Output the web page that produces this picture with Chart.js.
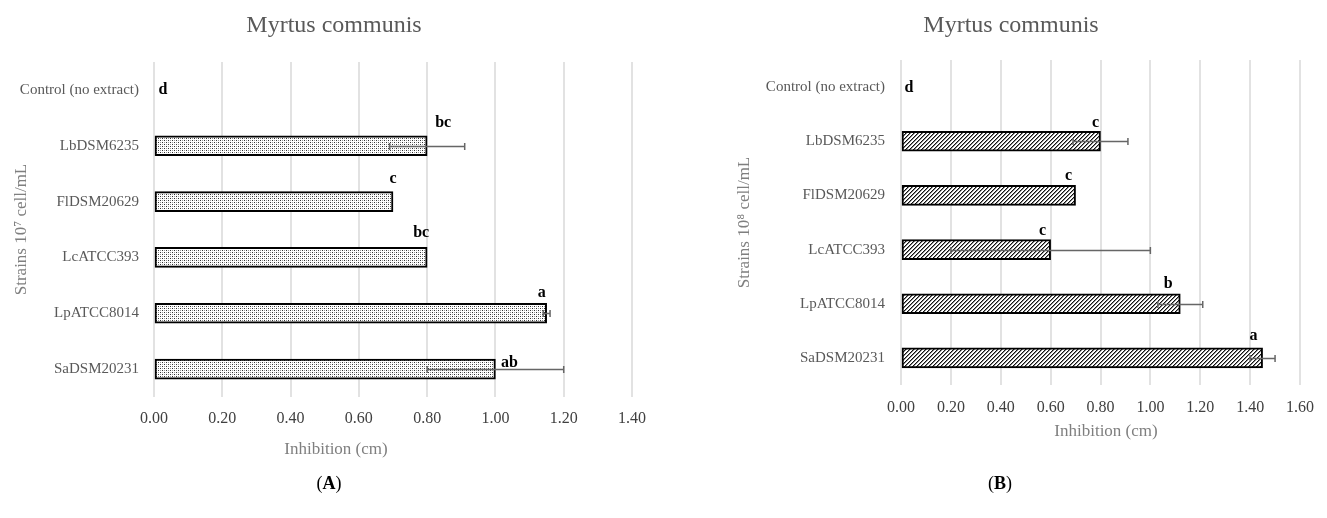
<!DOCTYPE html>
<html>
<head>
<meta charset="utf-8">
<script src="https://cdn.jsdelivr.net/npm/chart.js@4.4.0/dist/chart.umd.min.js"></script>
<style>
  body { margin: 0; background: #fff; width: 1327px; height: 518px; position: relative; overflow: hidden; font-family: 'Liberation Serif', serif; }
  canvas { position: absolute; top: 0; }
  #chartA { left: 0; }
  #chartB { left: 663px; }
  .txt { position: absolute; white-space: nowrap; transform: translateX(-50%); line-height: 1; }
  .title { font-size: 24px; color: #595959; top: 12px; }
  .xtitle { font-size: 17px; color: #7f7f7f; }
  .panel { font-size: 18px; color: #000; top: 474px; }
</style>
</head>
<body>
<canvas id="chartA" width="663" height="470"></canvas>
<canvas id="chartB" width="664" height="470"></canvas>

<div class="txt title" style="left:334px">Myrtus communis</div>
<div class="txt title" style="left:1011px">Myrtus communis</div>
<div class="txt xtitle" style="left:336px;top:440px">Inhibition (cm)</div>
<div class="txt xtitle" style="left:1106px;top:422px">Inhibition (cm)</div>
<div class="txt panel" style="left:329px">(<b>A</b>)</div>
<div class="txt panel" style="left:1000px">(<b>B</b>)</div>

<script>
// ---- data ----
const strains = ['Control (no extract)', 'LbDSM6235', 'FlDSM20629', 'LcATCC393', 'LpATCC8014', 'SaDSM20231'];

// panel A: 10^7 cell/mL
const inhibitionA = [0, 0.80, 0.70, 0.80, 1.15, 1.00];
const errorA = [0, 0.11, 0, 0, 0.01, 0.20];
const lettersA = ['d', 'bc', 'c', 'bc', 'a', 'ab'];

// panel B: 10^8 cell/mL
const inhibitionB = [0, 0.80, 0.70, 0.60, 1.12, 1.45];
const errorB = [0, 0.11, 0, 0.40, 0.09, 0.05];
const lettersB = ['d', 'c', 'c', 'c', 'b', 'a'];

const FONT = "'Liberation Serif', serif";

// fill patterns: light stipple for A, diagonal hatch for B
function stipple() {
  const c = document.createElement('canvas');
  c.width = 4; c.height = 4;
  const g = c.getContext('2d');
  g.fillStyle = '#fff'; g.fillRect(0, 0, 4, 4);
  g.fillStyle = '#333';
  [[0, 0], [2, 2]].forEach(([x, y]) => g.fillRect(x, y, 1, 1));
  g.fillStyle = '#999';
  [[2, 0], [0, 2]].forEach(([x, y]) => g.fillRect(x, y, 1, 1));
  return g.createPattern(c, 'repeat');
}

function hatch() {
  const c = document.createElement('canvas');
  c.width = 4; c.height = 4;
  const g = c.getContext('2d');
  g.fillStyle = '#fff'; g.fillRect(0, 0, 4, 4);
  g.fillStyle = '#111';
  [[3, 0], [2, 1], [1, 2], [0, 3]].forEach(([x, y]) => g.fillRect(x, y, 1, 1));
  g.fillStyle = '#888';
  [[0, 0], [3, 1], [2, 2], [1, 3]].forEach(([x, y]) => g.fillRect(x, y, 1, 1));
  return g.createPattern(c, 'repeat');
}

// error bars + significance letters, drawn on top of the bars
const marksPlugin = {
  id: 'marks',
  afterDatasetsDraw(chart, args, opts) {
    const { ctx, scales: { x } } = chart;
    const bars = chart.getDatasetMeta(0).data;
    ctx.save();
    ctx.strokeStyle = '#666';
    ctx.lineWidth = 1.5;
    opts.errors.forEach((e, i) => {
      if (!e) return;
      const v = opts.values[i];
      const yc = Math.round(bars[i].y) + 0.5;
      const x0 = x.getPixelForValue(v - e);
      const x1 = x.getPixelForValue(v + e);
      ctx.beginPath();
      ctx.moveTo(x0, yc); ctx.lineTo(x1, yc);
      ctx.moveTo(x0, yc - 3.5); ctx.lineTo(x0, yc + 3.5);
      ctx.moveTo(x1, yc - 3.5); ctx.lineTo(x1, yc + 3.5);
      ctx.stroke();
    });

    ctx.fillStyle = '#000';
    ctx.font = 'bold 16px ' + FONT;
    ctx.textAlign = 'center';
    ctx.textBaseline = 'middle';
    opts.letters.forEach((t, i) => {
      const [dx, dy] = opts.nudge[i];
      const px = x.getPixelForValue(opts.values[i]) + dx;
      ctx.fillText(t, px, bars[i].y + dy);
    });
    ctx.restore();
  }
};

function makeChart(id, values, errors, letters, cfg) {
  return new Chart(document.getElementById(id), {
    type: 'bar',
    data: {
      labels: strains,
      datasets: [{
        data: values,
        backgroundColor: cfg.fill,
        borderColor: '#000',
        borderWidth: 2,
        borderSkipped: false,
        barThickness: 20
      }]
    },
    options: {
      indexAxis: 'y',
      responsive: false,
      animation: false,
      devicePixelRatio: 1,
      layout: { padding: { top: cfg.top, right: cfg.right, left: 0, bottom: 0 } },
      plugins: {
        legend: { display: false },
        tooltip: { enabled: false },
        marks: { values, errors, letters, nudge: cfg.nudge }
      },
      scales: {
        x: {
          min: 0,
          max: cfg.max,
          ticks: {
            stepSize: 0.2,
            callback: v => Number(v).toFixed(2),
            color: '#404040',
            font: { family: FONT, size: 16 },
            padding: cfg.tickPad,
            maxRotation: 0
          },
          grid: { color: '#e2e2e2', lineWidth: 2, drawTicks: false },
          border: { display: false },
          afterFit(s) { s.height = cfg.xHeight; }
        },
        y: {
          ticks: { color: '#595959', font: { family: FONT, size: 15 }, padding: cfg.labelPad },
          grid: { display: false, drawTicks: false },
          border: { display: false },
          title: {
            display: true,
            text: cfg.yTitle,
            color: '#7f7f7f',
            font: { family: FONT, size: 17 },
            padding: { top: cfg.yTitlePad, bottom: 0 }
          },
          afterFit(s) { s.width = cfg.yWidth; }
        }
      }
    },
    plugins: [marksPlugin]
  });
}

makeChart('chartA', inhibitionA, errorA, lettersA, {
  fill: stipple(),
  max: 1.4,
  top: 62, right: 31, yWidth: 154, xHeight: 73,
  tickPad: 12, labelPad: 15, yTitlePad: 11,
  yTitle: 'Strains 10\u2077 cell/mL',
  nudge: [[9, 0], [16, -23], [0, -23], [-6, -25], [-5, -20], [14, -6]]
});

makeChart('chartB', inhibitionB, errorB, lettersB, {
  fill: hatch(),
  max: 1.6,
  top: 60, right: 17, yWidth: 238, xHeight: 85,
  tickPad: 13, labelPad: 16, yTitlePad: 71,
  yTitle: 'Strains 10\u2078 cell/mL',
  nudge: [[8, 1], [-5, -18], [-7, -20], [-8, -19], [-12, -20], [-9, -22]]
});
</script>
</body>
</html>
